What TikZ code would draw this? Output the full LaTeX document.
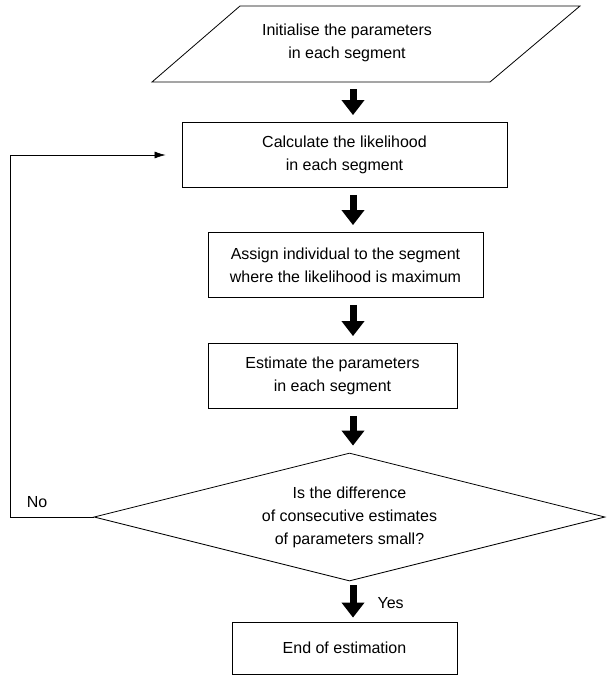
\documentclass[tikz,border=0pt]{standalone}
\usepackage{fontspec}
\setmainfont{Liberation Sans}
\usetikzlibrary{arrows.meta,shapes.geometric}
\tikzset{
  stepbox/.style={draw, line width=0.8pt, minimum height=65pt, align=center, inner sep=0pt},
  bigarrow/.style={line width=7pt, -{Triangle[length=15pt,width=22pt]}, shorten <=7pt, shorten >=7pt},
  loopline/.style={line width=0.7pt, -{Latex[length=11pt,width=7pt]}},
}
\begin{document}
\begin{tikzpicture}[x=1pt,y=-1pt,font=\fontsize{16}{23}\selectfont]
  \useasboundingbox (0,0) rectangle (607,675);
  \coordinate (axis) at (353,0);
  %input
  \draw[line width=0.8pt] (240,6) -- (580,6) -- (490,82) -- (152,82) -- cycle;
  \node[align=center] (init) at (347,43) {Initialise the parameters\\in each segment};
  \coordinate (initbot) at (353,82);
  %steps
  \node[stepbox, minimum width=325pt] (calc) at (344.5,155) {Calculate the likelihood\\in each segment};
  \node[stepbox, minimum width=275pt] (assign) at (345.5,265) {Assign individual to the segment\\where the likelihood is maximum};
  \node[stepbox, minimum width=249pt] (estim) at (332.5,376) {Estimate the parameters\\in each segment};
  \node[draw, diamond, aspect=4, line width=0.8pt, inner sep=0pt, minimum width=511pt, minimum height=128pt, align=center] (check) at (349.5,517) {Is the difference\\of consecutive estimates\\of parameters small?};
  \node[stepbox, minimum width=225pt, minimum height=52pt] (stop) at (344.5,648) {End of estimation};
  %arrows
  \draw[bigarrow] (initbot) -- (calc.north -| axis);
  \draw[bigarrow] (calc.south -| axis) -- (assign.north -| axis);
  \draw[bigarrow] (assign.south -| axis) -- (estim.north -| axis);
  \draw[bigarrow] (estim.south -| axis) -- (check.north -| axis);
  \draw[bigarrow, shorten <=4pt, shorten >=4pt] (check.south -| axis) -- (stop.north -| axis);
  \node[right] (yes) at (374,603) {Yes};
  %back loop
  \draw[loopline, shorten >=16pt] (check.west) -- (10,517) |- (calc.west);
  \node (no) at (37,502) {No};
\end{tikzpicture}
\end{document}
